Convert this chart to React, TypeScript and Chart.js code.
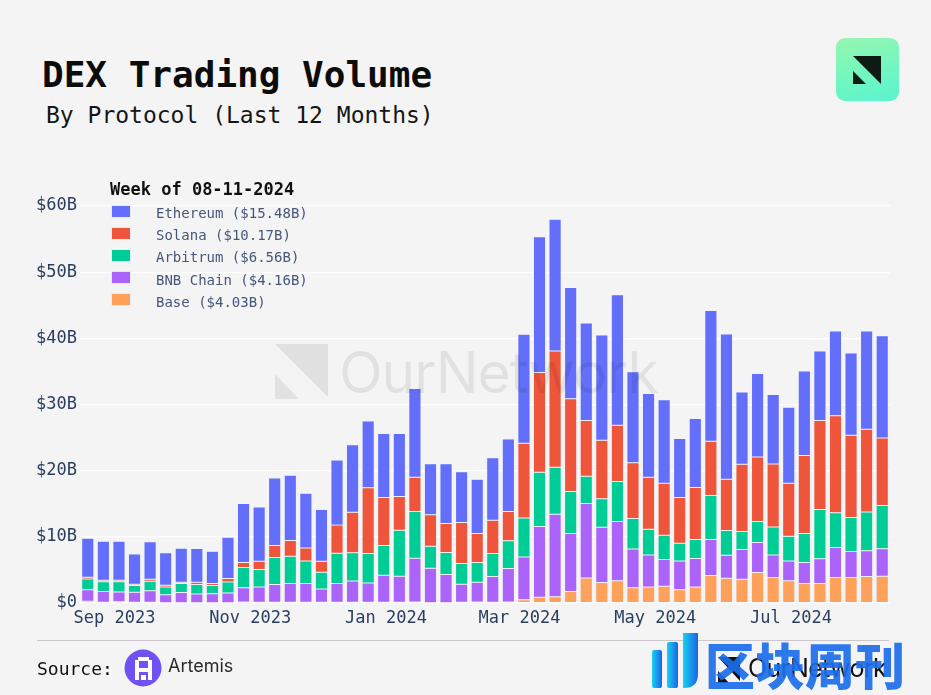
import React, { useEffect, useRef } from "react";
import { Chart, registerables } from "chart.js";

Chart.register(...registerables);

const weeks = [
  "2023-08-20", "2023-08-27", "2023-09-03", "2023-09-10", "2023-09-17", "2023-09-24",
  "2023-10-01", "2023-10-08", "2023-10-15", "2023-10-22", "2023-10-29", "2023-11-05",
  "2023-11-12", "2023-11-19", "2023-11-26", "2023-12-03", "2023-12-10", "2023-12-17",
  "2023-12-24", "2023-12-31", "2024-01-07", "2024-01-14", "2024-01-21", "2024-01-28",
  "2024-02-04", "2024-02-11", "2024-02-18", "2024-02-25", "2024-03-03", "2024-03-10",
  "2024-03-17", "2024-03-24", "2024-03-31", "2024-04-07", "2024-04-14", "2024-04-21",
  "2024-04-28", "2024-05-05", "2024-05-12", "2024-05-19", "2024-05-26", "2024-06-02",
  "2024-06-09", "2024-06-16", "2024-06-23", "2024-06-30", "2024-07-07", "2024-07-14",
  "2024-07-21", "2024-07-28", "2024-08-04", "2024-08-11",
];

const ethereum = [
  5.9, 5.91, 5.91, 4.59, 5.65, 4.9, 5.15, 5.1, 4.9, 6.26,
  8.94, 8.19, 10.21, 9.86, 8.27, 7.83, 9.83, 10.2, 10.1, 9.64,
  9.5, 13.4, 7.73, 9.06, 7.68, 8.19, 9.47, 10.96, 16.46, 20.5,
  19.9, 16.82, 14.74, 15.9, 19.73, 13.75, 12.68, 12.62, 8.89, 10.43,
  19.76, 21.97, 10.94, 12.63, 10.5, 11.52, 12.75, 10.5, 12.8, 12.45,
  14.84, 15.48,
];
const solana = [
  0.26, 0.2, 0.23, 0.2, 0.31, 0.26, 0.2, 0.35, 0.3, 0.51,
  0.76, 1.26, 1.82, 2.37, 1.97, 1.66, 4.24, 6.12, 9.93, 7.27,
  5.1, 5.16, 4.74, 4.37, 6.21, 4.39, 5.03, 4.45, 11.31, 15.1,
  17.58, 13.99, 8.44, 8.84, 8.49, 8.42, 7.83, 7.83, 6.92, 7.87,
  8.18, 7.73, 10.16, 9.75, 9.5, 7.98, 11.8, 13.46, 14.66, 12.42,
  12.52, 10.17,
];
const arbitrum = [
  1.62, 1.51, 1.53, 1.01, 1.41, 1.16, 1.36, 1.42, 1.22, 1.66,
  3.03, 2.63, 4.09, 4.14, 3.43, 2.53, 4.6, 4.25, 4.44, 4.5,
  6.96, 7.07, 3.34, 3.34, 3.13, 2.98, 3.48, 4.19, 5.86, 8.18,
  7.07, 6.37, 4.09, 4.3, 6.06, 4.6, 3.89, 3.68, 2.68, 2.88,
  6.66, 3.74, 2.72, 3.18, 4.23, 3.74, 4.39, 7.47, 5.26, 5.15,
  5.86, 6.56,
];
const bnbChain = [
  1.77, 1.62, 1.47, 1.52, 1.77, 1.21, 1.52, 1.31, 1.36, 1.47,
  2.17, 2.32, 2.68, 2.83, 2.83, 2.02, 2.83, 3.23, 2.93, 4.09,
  3.94, 6.62, 5.2, 4.24, 2.73, 2.98, 3.89, 5.05, 6.47, 10.71,
  12.47, 8.78, 11.26, 8.38, 8.96, 5.86, 4.85, 4.05, 4.34, 4.3,
  5.46, 3.48, 4.49, 4.54, 3.43, 2.98, 3.18, 3.74, 4.54, 3.94,
  3.89, 4.16,
];
const base = [
  0.25, 0.1, 0.2, 0.1, 0.1, 0.05, 0.05, 0.05, 0.05, 0.05,
  0.15, 0.1, 0.1, 0.1, 0.1, 0.1, 0.1, 0.1, 0.1, 0.1,
  0.1, 0.15, 0.05, 0.05, 0.1, 0.15, 0.1, 0.15, 0.5, 0.86,
  0.96, 1.72, 3.79, 3.08, 3.36, 2.32, 2.42, 2.52, 2.02, 2.42,
  4.14, 3.74, 3.59, 4.6, 3.84, 3.38, 2.93, 2.93, 3.84, 3.84,
  3.99, 4.03,
];

const monthTickDates = ["2023-09-01", "2023-11-01", "2024-01-01", "2024-03-01", "2024-05-01", "2024-07-01"];
const monthTickLabels = ["Sep 2023", "Nov 2023", "Jan 2024", "Mar 2024", "May 2024", "Jul 2024"];
const yTickValues = [0, 10, 20, 30, 40, 50, 60];
const yTickLabels = ["$0", "$10B", "$20B", "$30B", "$40B", "$50B", "$60B"];

// legend order (top to bottom)
const seriesNames = ["Ethereum", "Solana", "Arbitrum", "BNB Chain", "Base"];
const seriesData = [ethereum, solana, arbitrum, bnbChain, base];
const seriesColors = ["#636EFA", "#EF553B", "#00CC96", "#AB63FA", "#FFA15A"];

const MONO = "'DejaVu Sans Mono', 'Liberation Mono', monospace";
const SANS = "Inter, 'Noto Sans', sans-serif";

function weekPos(d: string): number {
  return (Date.parse(d) - Date.parse(weeks[0])) / (7 * 86400000);
}

function fmtWeek(d: string): string {
  const [y, m, dd] = d.split("-");
  return `${m}-${dd}-${y}`;
}

export default function App() {
  const canvasRef = useRef<HTMLCanvasElement | null>(null);

  useEffect(() => {
    document.body.style.margin = "0";
    document.body.style.background = "#f4f4f4";
    const canvas = canvasRef.current;
    if (!canvas) return;
    const monthTickPositions = monthTickDates.map(weekPos);
    // bottom-to-top stacking order
    const order = [4, 3, 2, 1, 0];
    const chart = new Chart(canvas, {
      type: "bar",
      data: {
        labels: weeks,
        datasets: order.map((i) => ({
          label: seriesNames[i],
          data: seriesData[i],
          backgroundColor: seriesColors[i],
          borderColor: "#E5ECF6",
          borderWidth: 0.5,
          borderSkipped: false,
          categoryPercentage: 1,
          barPercentage: 0.78,
          xAxisID: "x",
          yAxisID: "y",
        })),
      },
      options: {
        responsive: false,
        animation: false,
        events: [],
        layout: { padding: { top: 26, left: 0, right: 41, bottom: 0 } },
        plugins: { legend: { display: false }, tooltip: { enabled: false } },
        scales: {
          x: { type: "category", stacked: true, display: false, offset: true },
          x2: {
            type: "linear",
            position: "bottom",
            offset: false,
            min: -0.5,
            max: weeks.length - 0.5,
            grid: { display: false },
            border: { display: false },
            afterBuildTicks: (s: any) => {
              s.ticks = monthTickPositions.map((v) => ({ value: v }));
            },
            afterFit: (s: any) => {
              s.height = 37;
            },
            ticks: {
              autoSkip: false,
              maxRotation: 0,
              padding: -3,
              color: "#2a3f5f",
              font: { family: MONO, size: 17 },
              callback: (_v: any, i: number) => monthTickLabels[i],
            },
          },
          y: {
            type: "linear",
            stacked: true,
            min: 0,
            max: 60,
            afterBuildTicks: (s: any) => {
              s.ticks = yTickValues.map((v) => ({ value: v }));
            },
            afterFit: (s: any) => {
              s.width = 80;
            },
            grid: { color: "#ffffff", lineWidth: 1.2, drawTicks: false },
            border: { display: false },
            ticks: {
              padding: 3,
              color: "#2a3f5f",
              font: { family: MONO, size: 17 },
              callback: (_v: any, i: number) => yTickLabels[i],
            },
          },
        },
      } as any,
    });
    return () => chart.destroy();
  }, []);

  const lastIdx = weeks.length - 1;

  return (
    <div
      style={{
        position: "fixed",
        left: 0,
        top: 0,
        width: 931,
        height: 695,
        background: "#f4f4f4",
        overflow: "hidden",
        fontFamily: MONO,
      }}
    >
      {/* Title */}
      <div style={{ position: "absolute", left: 42, top: 57, fontSize: 36, lineHeight: "36px", fontWeight: 700, color: "#0c0c0c", whiteSpace: "nowrap" }}>
        DEX Trading Volume
      </div>
      <div style={{ position: "absolute", left: 46, top: 104, fontSize: 23, lineHeight: "23px", color: "#151515", whiteSpace: "nowrap" }}>
        By Protocol (Last 12 Months)
      </div>

      {/* Top-right logo */}
      <div
        style={{
          position: "absolute",
          left: 836,
          top: 38,
          width: 63,
          height: 63,
          borderRadius: 9,
          background: "linear-gradient(165deg, #97f6b0 0%, #72f6c0 55%, #5af4d0 100%)",
        }}
      >
        <svg width={63} height={63} style={{ position: "absolute", left: 0, top: 0 }}>
          <polygon points="17,18 45,18 45,46" fill="#0d1b14" />
          <polygon points="17,33 17,46 30,46" fill="#0d1b14" />
        </svg>
      </div>

      {/* Chart */}
      <canvas ref={canvasRef} width={931} height={460} style={{ position: "absolute", left: 0, top: 180, width: 931, height: 460 }} />

      {/* Legend */}
      <div style={{ position: "absolute", left: 110, top: 181, fontSize: 17, lineHeight: "17px", fontWeight: 700, color: "#111", whiteSpace: "nowrap" }}>
        Week of {fmtWeek(weeks[lastIdx])}
      </div>
      {seriesNames.map((name, i) => {
        const cy = 211 + i * 22.2;
        return (
          <React.Fragment key={name}>
            <div
              style={{
                position: "absolute",
                left: 111,
                top: cy - 6.5,
                width: 20,
                height: 13,
                background: seriesColors[i],
                boxSizing: "border-box",
                border: "0.5px solid #E5ECF6",
              }}
            />
            <div
              style={{
                position: "absolute",
                left: 156,
                top: cy - 5,
                fontSize: 14,
                lineHeight: "14px",
                color: "#46577a",
                whiteSpace: "nowrap",
              }}
            >
              {name} (${seriesData[i][lastIdx].toFixed(2)}B)
            </div>
          </React.Fragment>
        );
      })}

      {/* Watermark */}
      <svg width={931} height={695} style={{ position: "absolute", left: 0, top: 0, pointerEvents: "none" }}>
        <polygon points="275,344 328,344 328,397" fill="rgba(0,0,0,0.075)" />
        <polygon points="275,374 275,399 299,399" fill="rgba(0,0,0,0.075)" />
      </svg>
      <div
        style={{
          position: "absolute",
          left: 339,
          top: 344,
          fontFamily: SANS,
          fontSize: 57,
          lineHeight: "57px",
          letterSpacing: -1,
          color: "rgba(0,0,0,0.075)",
          whiteSpace: "nowrap",
          pointerEvents: "none",
        }}
      >
        OurNetwork
      </div>

      {/* Footer */}
      <div style={{ position: "absolute", left: 37, top: 640, width: 852, height: 1, background: "#cdc6cd" }} />
      <div style={{ position: "absolute", left: 37, top: 660, fontSize: 18, lineHeight: "18px", color: "#111", whiteSpace: "nowrap" }}>
        Source:
      </div>
      <svg width={40} height={40} style={{ position: "absolute", left: 124, top: 649 }}>
        <circle cx={19} cy={19} r={18.5} fill="#7052f4" />
        <rect x={14} y={8} width={11} height={4} fill="#fff" />
        <rect x={11} y={11} width={4} height={20} fill="#fff" />
        <rect x={24} y={11} width={4} height={20} fill="#fff" />
        <rect x={14} y={19} width={11} height={4} fill="#fff" />
        <rect x={17} y={26} width={5} height={5} fill="#fff" />
      </svg>
      <div style={{ position: "absolute", left: 168, top: 657, fontFamily: SANS, fontSize: 18, lineHeight: "18px", color: "#2a2a2a", whiteSpace: "nowrap" }}>
        Artemis
      </div>

      {/* Bottom-right site watermark */}
      <svg width={30} height={30} style={{ position: "absolute", left: 716, top: 655 }}>
        <polygon points="2,2 24,2 24,26" fill="#111" />
        <polygon points="2,16 2,28 13,28" fill="#111" />
      </svg>
      <div style={{ position: "absolute", left: 748, top: 656, fontFamily: SANS, fontSize: 25, lineHeight: "25px", color: "#111", whiteSpace: "nowrap", letterSpacing: -0.6 }}>
        OurNetwork
      </div>
      <svg width={56} height={62} style={{ position: "absolute", left: 648, top: 630 }}>
        <defs>
          <linearGradient id="wmg" x1="0" y1="0" x2="1" y2="0">
            <stop offset="0" stopColor="#16d2f3" />
            <stop offset="1" stopColor="#1d63e4" />
          </linearGradient>
        </defs>
        <rect x={4} y={20} width={10} height={38} rx={2} fill="url(#wmg)" />
        <rect x={19} y={12} width={11} height={46} rx={2} fill="url(#wmg)" />
        <path d="M35 3 L50 3 L50 44 Q50 58 36 58 L35 58 Z" fill="url(#wmg)" />
      </svg>
      <div
        style={{
          position: "absolute",
          left: 705,
          top: 638,
          fontFamily: "'Noto Sans CJK SC', sans-serif",
          fontSize: 50,
          lineHeight: "50px",
          fontWeight: 900,
          color: "rgba(27,108,232,0.92)",
          whiteSpace: "nowrap",
        }}
      >
        区块周刊
      </div>
    </div>
  );
}
